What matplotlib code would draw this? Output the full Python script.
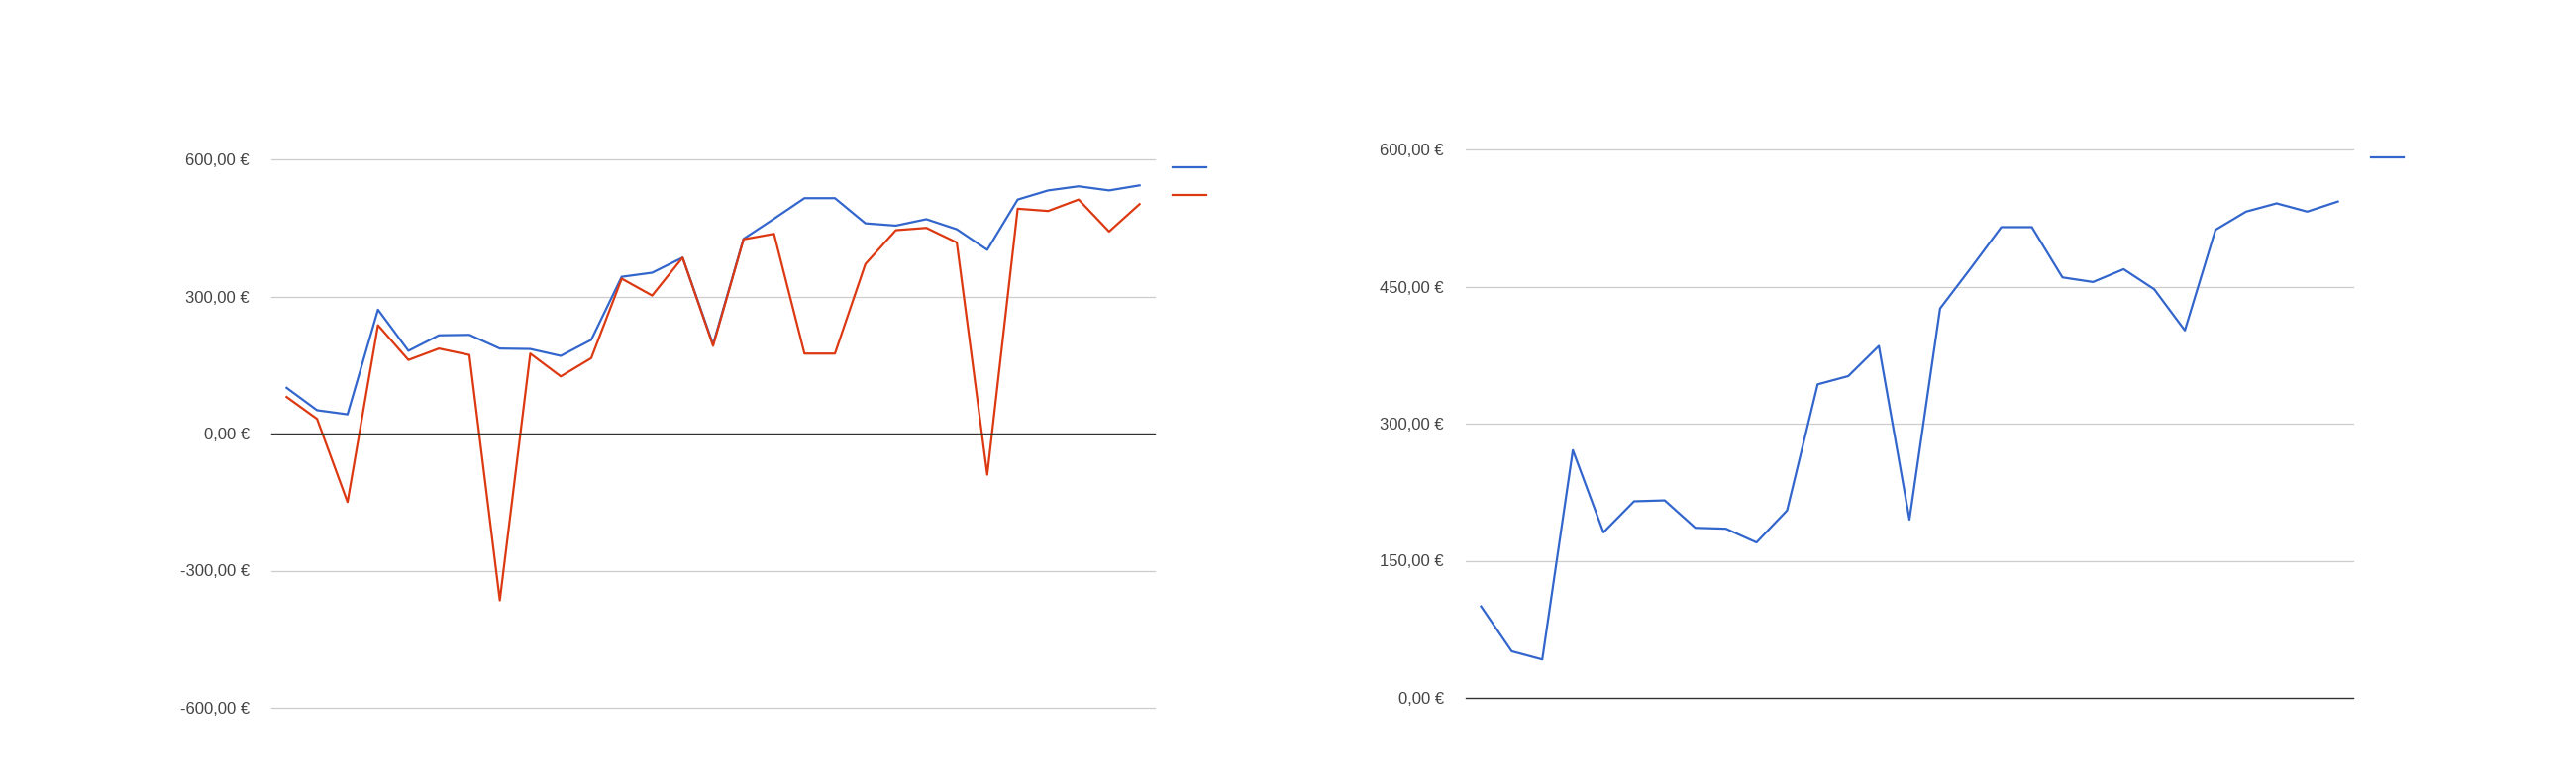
import matplotlib.pyplot as plt
from matplotlib.lines import Line2D

plt.rcParams['font.family'] = ['Liberation Sans', 'DejaVu Sans']

# Dados (29 pontos)
serie_azul = [100, 51, 42, 271, 181, 215, 216, 186, 185, 170, 205, 343, 352,
              385, 195, 426, 470, 515, 515, 460, 455, 469, 447, 402, 512,
              532, 541, 532, 543]
serie_vermelha = [80, 32, -150, 237, 161, 186, 172, -365, 175, 125, 165, 339,
                  302, 385, 192, 425, 437, 175, 175, 371, 445, 450, 418, -90,
                  492, 487, 512, 442, 502]

ticks_esq = [-600, -300, 0, 300, 600]
labels_esq = ['-600,00 €', '-300,00 €', '0,00 €', '300,00 €', '600,00 €']
ticks_dir = [0, 150, 300, 450, 600]
labels_dir = ['0,00 €', '150,00 €', '300,00 €', '450,00 €', '600,00 €']

AZUL = '#3366cc'
VERMELHO = '#dc3912'
W, H = 2601, 782


def estilo_eixo(ax, ticks, labels, ylim, n):
    ax.set_xlim(-0.5, n - 0.5)
    ax.set_ylim(*ylim)
    ax.set_yticks(ticks)
    ax.set_yticklabels(labels)
    ax.set_xticks([])
    for s in ax.spines.values():
        s.set_visible(False)
    ax.tick_params(axis='y', length=0, pad=16, labelsize=12, labelcolor='#444444')
    for t in ticks:
        if t == 0:
            ax.axhline(0, color='#333333', lw=1.0, zorder=5, clip_on=False)
        else:
            ax.axhline(t, color='#cccccc', lw=0.9, zorder=0, clip_on=False)


fig = plt.figure(figsize=(W / 100, H / 100), dpi=100)

# Gráfico da esquerda
ax1 = fig.add_axes([274 / W, 1 - 715 / H, (1166 - 274) / W, (715 - 161) / H])
x = range(len(serie_azul))
ax1.plot(x, serie_azul, color=AZUL, lw=1.6, zorder=3)
ax1.plot(x, serie_vermelha, color=VERMELHO, lw=1.6, zorder=4)
estilo_eixo(ax1, ticks_esq, labels_esq, (-600, 600), len(serie_azul))

# Gráfico da direita
ax2 = fig.add_axes([1480 / W, 1 - 705 / H, (2376 - 1480) / W, (705 - 151) / H])
ax2.plot(x, serie_azul, color=AZUL, lw=1.6, zorder=3)
estilo_eixo(ax2, ticks_dir, labels_dir, (0, 600), len(serie_azul))

# Legendas (só as linhas, sem texto)
fig.add_artist(Line2D([1184 / W, 1218 / W], [1 - 169 / H, 1 - 169 / H], color=AZUL, lw=1.6))
fig.add_artist(Line2D([1184 / W, 1218 / W], [1 - 197 / H, 1 - 197 / H], color=VERMELHO, lw=1.6))
fig.add_artist(Line2D([2394 / W, 2427 / W], [1 - 159 / H, 1 - 159 / H], color=AZUL, lw=1.6))

fig.savefig('out.png', dpi=100, facecolor='white')
